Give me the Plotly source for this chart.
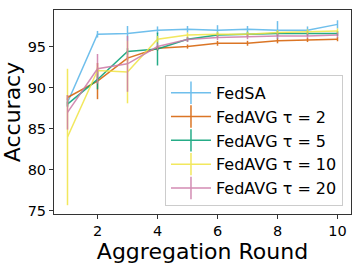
import plotly.graph_objects as go

rounds = [1, 2, 3, 4, 5, 6, 7, 8, 9, 10]

series_names = ["FedSA", "FedAVG τ = 2", "FedAVG τ = 5", "FedAVG τ = 10", "FedAVG τ = 20"]

fedsa = [88.2, 96.5, 96.6, 97.0, 97.1, 97.0, 97.1, 97.0, 97.0, 97.7]
fedsa_err = [0.5, 0.4, 0.9, 0.45, 0.4, 0.6, 0.4, 1.1, 0.45, 0.5]

avg2 = [88.8, 90.8, 93.6, 94.8, 95.0, 95.4, 95.4, 95.7, 95.8, 95.9]
avg2_err = [0.3, 2.2, 0.3, 0.3, 0.25, 0.3, 0.3, 0.3, 0.25, 0.25]

avg5 = [88.0, 91.0, 94.4, 94.7, 95.9, 96.4, 96.5, 96.6, 96.6, 96.6]
avg5_err = [0.3, 1.2, 0.4, 2.0, 0.3, 0.3, 0.3, 0.3, 0.3, 0.3]

avg10 = [84.0, 92.1, 91.9, 95.9, 96.4, 96.5, 96.5, 96.7, 96.8, 96.9]
avg10_err = [8.3, 0.4, 3.8, 0.4, 0.3, 0.3, 0.3, 0.3, 0.3, 0.3]

avg20 = [87.0, 92.3, 92.9, 95.0, 95.85, 96.1, 96.2, 96.3, 96.3, 96.4]
avg20_err = [2.1, 1.8, 3.4, 0.4, 0.3, 0.3, 0.3, 0.3, 0.3, 0.3]

colors = ["#56B4E9", "#D55E00", "#009E73", "#F0E442", "#CC79A7"]

values = [fedsa, avg2, avg5, avg10, avg20]
errors = [fedsa_err, avg2_err, avg5_err, avg10_err, avg20_err]

fig = go.Figure()
for name, v, e, c in zip(series_names, values, errors, colors):
    fig.add_trace(go.Scatter(
        x=rounds, y=v, mode="lines", name=name, showlegend=False,
        line=dict(color=c, width=1.5), opacity=0.85,
        error_y=dict(type="data", array=e, width=0, thickness=1.5, color=c),
    ))
for name, c in zip(series_names, colors):
    fig.add_trace(go.Scatter(
        x=[None], y=[None], mode="lines+markers", name=name,
        line=dict(color=c, width=1.5), opacity=0.85,
        marker=dict(symbol="line-ns", size=18, color=c, line=dict(width=1.5, color=c)),
    ))

axis_common = dict(
    showline=True, mirror=True, linecolor="#333333", linewidth=1,
    ticks="outside", ticklen=4, tickcolor="#333333", showgrid=False, zeroline=False,
    tickfont=dict(size=14.5, color="black", family="DejaVu Sans"),
)

fig.update_layout(
    width=357, height=264,
    margin=dict(l=54, r=6, t=10, b=50),
    paper_bgcolor="white", plot_bgcolor="white",
    font=dict(family="DejaVu Sans", color="black"),
    xaxis=dict(range=[0.55, 10.45], tickvals=[2, 4, 6, 8, 10],
               title=dict(text="Aggregation Round", font=dict(size=22), standoff=3),
               **axis_common),
    yaxis=dict(range=[74.63, 99.45], tickvals=[75, 80, 85, 90, 95],
               title=dict(text="Accuracy", font=dict(size=22), standoff=4),
               **axis_common),
    legend=dict(x=0.973, y=0.04, xanchor="right", yanchor="bottom",
                bgcolor="rgba(255,255,255,0.85)", bordercolor="#cccccc", borderwidth=1,
                font=dict(size=16, family="DejaVu Sans", color="black"),
                itemwidth=40),
)

fig.write_html("out.html", config={"displayModeBar": False},
               post_script="document.body.style.margin='0';document.body.style.overflow='hidden';")
